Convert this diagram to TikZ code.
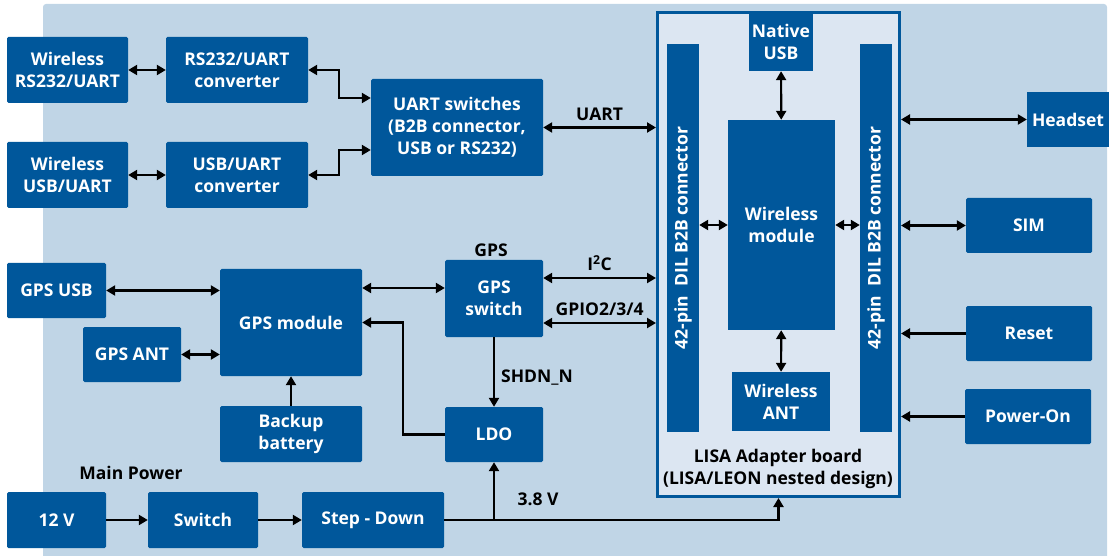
\documentclass[tikz,border=0pt]{standalone}
\usepackage{fontspec}
\setmainfont{Open Sans}
\usetikzlibrary{arrows.meta}

\definecolor{ublue}{HTML}{00579B}
\definecolor{bgblue}{HTML}{C0D5E6}
\definecolor{brdfill}{HTML}{DCE6F2}

\tikzset{
  blk/.style={fill=ublue, text=white, font=\fontsize{17.5}{22}\selectfont\bfseries,
    align=center, inner sep=0pt, rounded corners=1.5pt},
  lbl/.style={text=black, font=\fontsize{17.5}{22}\selectfont\bfseries,
    align=center, inner sep=0pt},
  arr/.style={line width=2.2pt, -{Triangle[length=9pt,width=10pt]}},
  darr/.style={line width=2.2pt,
    {Triangle[length=9pt,width=10pt]}-{Triangle[length=9pt,width=10pt]}},
}

\begin{document}
\begin{tikzpicture}[x=1pt, y=-1pt]
  \useasboundingbox (0,0) rectangle (1109,556);
  \fill[bgblue, rounded corners=3pt] (43,4) rectangle (1107,566);

  % adapter board
  \node[draw=ublue, fill=brdfill, line width=3pt, minimum width=242pt,
    minimum height=484pt, inner sep=0pt] (board) at (778.5,254.5) {};
  \node[blk, rounded corners=0pt, minimum width=32pt, minimum height=388pt] (lbar) at (683,238) {};
  \node[blk, fill=none, rotate=90] (ltxt) at (lbar) {42-pin\ \ DIL B2B connector};
  \node[blk, rounded corners=0pt, minimum width=32pt, minimum height=388pt] (rbar) at (876,238) {};
  \node[blk, fill=none, rotate=90] (rtxt) at (rbar) {42-pin\ \ DIL B2B connector};
  \node[blk, rounded corners=0pt, minimum width=64pt, minimum height=58pt] (nusb) at (781,42) {Native\\USB};
  \node[blk, rounded corners=0pt, minimum width=107pt, minimum height=210pt] (wmod) at (781.5,225) {Wireless\\module};
  \node[blk, rounded corners=0pt, minimum width=98pt, minimum height=59pt] (want) at (781,401.5) {Wireless\\ANT};
  \node[lbl] (boardlbl) at (778,469) {LISA Adapter board\\(LISA/LEON nested design)};

  % uart side
  \node[blk, minimum width=121pt, minimum height=66pt] (wrs) at (67.5,70) {Wireless\\RS232/UART};
  \node[blk, minimum width=142pt, minimum height=66pt] (rsconv) at (237,70) {RS232/UART\\converter};
  \node[blk, minimum width=121pt, minimum height=66pt] (wusb) at (67.5,175) {Wireless\\USB/UART};
  \node[blk, minimum width=142pt, minimum height=66pt] (usbconv) at (237,175) {USB/UART\\converter};
  \node[blk, minimum width=172pt, minimum height=97pt] (uartsw) at (457,127.5) {UART switches\\(B2B connector,\\USB or RS232)};

  % gps side
  \node[blk, minimum width=99pt, minimum height=55pt] (gpsusb) at (56.5,290.5) {GPS USB};
  \node[blk, minimum width=142pt, minimum height=107pt] (gpsmod) at (291,322.5) {GPS module};
  \node[blk, minimum width=98pt, minimum height=55pt] (gpsant) at (132,354.5) {GPS ANT};
  \node[blk, minimum width=142pt, minimum height=56pt] (backup) at (291,434) {Backup\\battery};
  \node[blk, minimum width=98pt, minimum height=77pt] (gpssw) at (494,298.5) {GPS\\switch};
  \node[lbl] (gpslbl) at (491,250) {GPS};
  \node[blk, minimum width=98pt, minimum height=55pt] (ldo) at (494,434.5) {LDO};

  % power
  \node[lbl] (mainpwr) at (131,473) {Main Power};
  \node[blk, minimum width=99pt, minimum height=56pt] (v12) at (56.5,520) {12 V};
  \node[blk, minimum width=110pt, minimum height=56pt] (switch) at (203,520) {Switch};
  \node[blk, minimum width=142pt, minimum height=56pt] (stepdn) at (373,520) {Step - Down};

  % right side
  \node[blk, rounded corners=0pt, minimum width=82pt, minimum height=55pt] (headset) at (1068,119.5) {Headset};
  \node[blk, minimum width=126pt, minimum height=55pt] (sim) at (1029,225.5) {SIM};
  \node[blk, minimum width=126pt, minimum height=55pt] (reset) at (1029,333.5) {Reset};
  \node[blk, minimum width=126pt, minimum height=55pt] (pwron) at (1028,416.5) {Power-On};

  % connectors
  \draw[darr] (wrs) -- (rsconv);
  \draw[darr] (wusb) -- (usbconv);
  \draw[darr] (rsconv.east) -- ++(31,0) |- ([yshift=29.5pt]uartsw.west);
  \draw[darr] (usbconv.east) -- ++(31,0) |- ([yshift=-22.5pt]uartsw.west);
  \draw[darr] (uartsw.east) -- (uartsw.east -| board.west)
    node[lbl, midway, above=6pt] (uartlbl) {UART};

  \draw[darr] (gpsusb) -- (gpsusb -| gpsmod.west);
  \draw[darr] (gpsant) -- (gpsant -| gpsmod.west);
  \draw[arr] (backup) -- (gpsmod);
  \draw[darr] ([yshift=10.5pt]gpssw.west) -- ([yshift=10.5pt]gpssw.west -| gpsmod.east);
  \draw[darr] ([yshift=20.5pt]gpssw.east) -- ([yshift=20.5pt]gpssw.east -| board.west)
    node[lbl, midway, above=6pt] (i2clbl) {I\textsuperscript{2}C};
  \draw[darr] ([yshift=-24.5pt]gpssw.east) -- ([yshift=-24.5pt]gpssw.east -| board.west)
    node[lbl, midway, above=6pt] (gpiolbl) {GPIO2/3/4};
  \draw[arr] (gpssw) -- (ldo);
  \node[lbl, anchor=west] (shdnlbl) at (501,378) {SHDN\_N};
  \draw[arr] (ldo.west) -- ++(-42,0) |- (gpsmod.east);

  \draw[arr] (v12) -- (switch);
  \draw[arr] (switch) -- (stepdn);
  \coordinate (tap) at (ldo.south |- stepdn.east);
  \draw[arr] (stepdn.east) -| (board.south);
  \draw[arr] (tap) -- (ldo);
  \node[lbl] (vlbl) at (538,499) {3.8 V};

  \draw[darr] (nusb) -- (wmod);
  \draw[darr] (wmod) -- (want);
  \draw[darr] (wmod.west) -- (wmod.west -| lbar.east);
  \draw[darr] (wmod.east) -- (wmod.east -| rbar.west);

  \draw[darr] (headset.west) -- (headset.west -| board.east);
  \draw[darr] (sim.west) -- (sim.west -| board.east);
  \draw[arr] (reset.west) -- (reset.west -| board.east);
  \draw[arr] (pwron.west) -- (pwron.west -| board.east);
\end{tikzpicture}
\end{document}
